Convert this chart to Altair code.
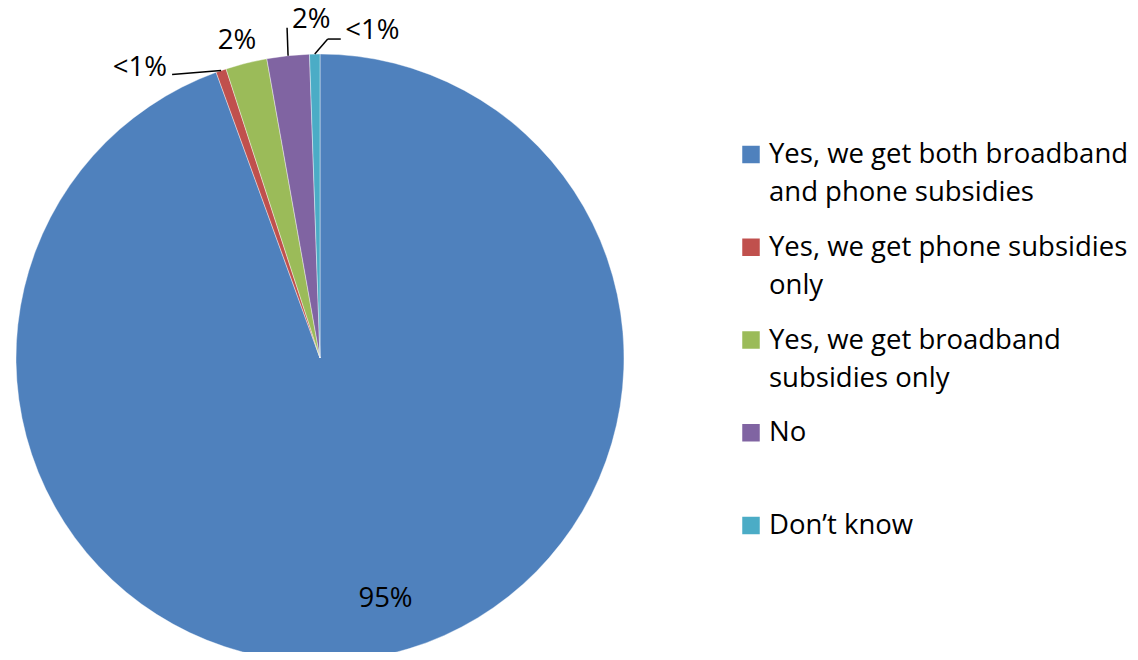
import altair as alt
import pandas as pd

# ---- data ----
categories = [
    "Yes, we get both broadband and phone subsidies",
    "Yes, we get phone subsidies only",
    "Yes, we get broadband subsidies only",
    "No",
    "Don’t know",
]
legend_labels = [
    "Yes, we get both broadband\nand phone subsidies",
    "Yes, we get phone subsidies\nonly",
    "Yes, we get broadband\nsubsidies only",
    "No",
    "Don’t know",
]
values = [94.45, 0.55, 2.2, 2.25, 0.55]
pct_labels = ["95%", "<1%", "2%", "2%", "<1%"]
colors = ["#4F81BD", "#C0504D", "#9BBB59", "#8064A2", "#4BACC6"]

df = pd.DataFrame({
    "idx": list(range(len(categories))),
    "cat": categories,
    "legend": legend_labels,
    "value": values,
    "label": pct_labels,
})

# ---- layout / style ----
FONT = "Open Sans"
FS = 27.5
CX, CY, R = 312, 350, 304

color = alt.Color("cat:N", scale=alt.Scale(domain=categories, range=colors), legend=None)

base = (
    alt.Chart(df)
    .transform_joinaggregate(total="sum(value)")
    .transform_window(cum="sum(value)", sort=[alt.SortField("idx")], frame=[None, 0])
    .transform_calculate(
        start="2*PI*(datum.cum - datum.value)/datum.total",
        end="2*PI*datum.cum/datum.total",
    )
    .transform_calculate(mid="(datum.start + datum.end)/2")
)

pie = base.mark_arc(outerRadius=R, stroke="white", strokeWidth=0.4).encode(
    x=alt.value(CX),
    y=alt.value(CY),
    theta=alt.Theta("start:Q", scale=None),
    theta2=alt.Theta2("end:Q"),
    color=color,
)


def label_layer(i, r, off):
    return (
        base.transform_filter(alt.datum.idx == i)
        .transform_calculate(lt=f"datum.mid + ({off})")
        .mark_text(radius=r, font=FONT, fontSize=FS, color="black",
                   align="center", baseline="middle")
        .encode(
            x=alt.value(CX),
            y=alt.value(CY),
            theta=alt.Theta("lt:Q", scale=None),
            text="label:N",
        )
    )


def leader(i, ax, ay, bx, by):
    return (
        base.transform_filter(alt.datum.idx == i)
        .transform_calculate(
            ex=f"{CX} + {R}*sin(datum.mid)",
            ey=f"{CY} - {R}*cos(datum.mid)",
        )
        .transform_calculate(
            x1=f"datum.ex + ({ax})",
            y1=f"datum.ey + ({ay})",
            x2=f"datum.ex + ({bx})",
            y2=f"datum.ey + ({by})",
        )
        .mark_rule(color="black", strokeWidth=1.5)
        .encode(
            x=alt.X("x1:Q", scale=None),
            y=alt.Y("y1:Q", scale=None),
            x2="x2:Q",
            y2="y2:Q",
        )
    )


labels = [
    label_layer(0, 250, -0.0908),
    label_layer(1, 341, -0.225),
    label_layer(2, 328, -0.011),
    label_layer(3, 338, 0.0794),
    label_layer(4, 331, 0.176),
]

leaders = [
    leader(1, 0, 0, -49, 4),
    leader(3, 0, 0, -1, -28),
    leader(4, 0, 0, 13, -15),
    leader(4, 13, -15, 26, -15),
]

ly = alt.Y("idx:Q", scale=alt.Scale(domain=[0, 4], range=[155, 526]), axis=None)

leg_sq = base.mark_square(size=306, opacity=1, yOffset=-8.5).encode(
    x=alt.value(743), y=ly, color=color
)
leg_tx = base.mark_text(
    align="left", baseline="alphabetic", lineBreak="\n", lineHeight=38,
    font=FONT, fontSize=FS, color="black",
).encode(x=alt.value(761), y=ly, text="legend:N")

chart = (
    alt.layer(pie, *leaders, *labels, leg_sq, leg_tx)
    .properties(width=1122, height=644, padding=0, autosize="none")
    .configure_view(stroke=None)
)

chart.save("out.html", embed_options={"renderer": "svg", "actions": False})
